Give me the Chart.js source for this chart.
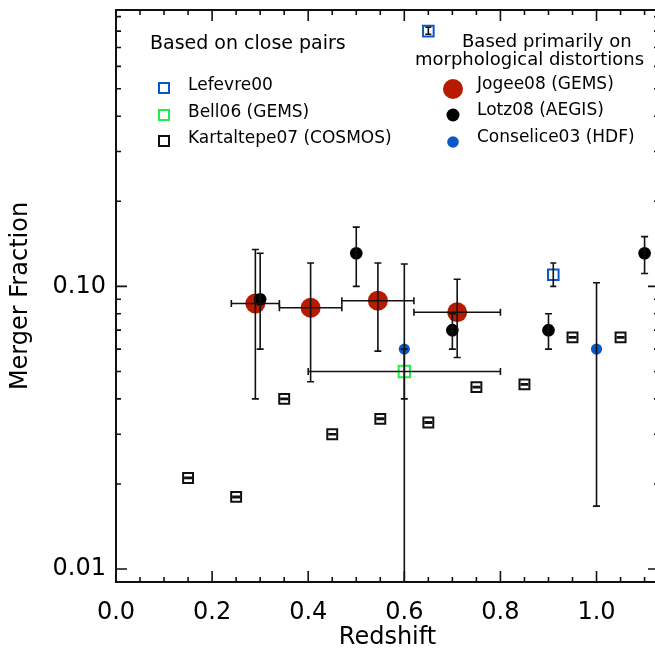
<!DOCTYPE html>
<html lang="en">
<head>
<meta charset="utf-8">
<title>Merger Fraction vs Redshift</title>
<script src="https://cdn.jsdelivr.net/npm/chart.js@4.4.0/dist/chart.umd.min.js"></script>
<style>
  html, body { margin: 0; padding: 0; background: #fff; overflow: hidden; }
  #wrap { position: relative; width: 670px; height: 656px; }
</style>
</head>
<body>
<div id="wrap"><canvas id="mergerChart"></canvas></div>
<script>
// --- close pairs ---
var lefevreZ  = [0.65, 0.91];
var lefevreF  = [0.80, 0.110];
var lefevreLo = [0.78, 0.100];
var lefevreHi = [0.825, 0.121];

var bellZ   = [0.60];
var bellF   = [0.050];
var bellLo  = [0.040];
var bellHi  = [0.060];
var bellZLo = [0.40];
var bellZHi = [0.80];

var kartZ  = [0.15, 0.25, 0.35, 0.45, 0.55, 0.65, 0.75, 0.85, 0.95, 1.05];
var kartF  = [0.021, 0.018, 0.040, 0.030, 0.034, 0.033, 0.044, 0.045, 0.066, 0.066];
var kartLo = [0.0209, 0.0179, 0.0398, 0.0299, 0.0338, 0.0328, 0.0438, 0.0448, 0.0657, 0.0657];
var kartHi = [0.0211, 0.0181, 0.0402, 0.0301, 0.0342, 0.0332, 0.0442, 0.0452, 0.0663, 0.0663];

// --- morphological distortions ---
var jogeeZ   = [0.29, 0.405, 0.545, 0.71];
var jogeeF   = [0.087, 0.084, 0.089, 0.081];
var jogeeLo  = [0.040, 0.046, 0.059, 0.056];
var jogeeHi  = [0.135, 0.121, 0.121, 0.106];
var jogeeZLo = [0.24, 0.34, 0.47, 0.62];
var jogeeZHi = [0.34, 0.47, 0.62, 0.80];

var lotzZ  = [0.30, 0.50, 0.70, 0.90, 1.10];
var lotzF  = [0.090, 0.131, 0.070, 0.070, 0.131];
var lotzLo = [0.060, 0.100, 0.060, 0.060, 0.111];
var lotzHi = [0.131, 0.162, 0.080, 0.080, 0.150];

var conseliceZ  = [0.60, 1.00];
var conseliceF  = [0.060, 0.060];
var conseliceLo = [0.001, 0.0167];
var conseliceHi = [0.120, 0.103];

var xTickLabels = [0.0, 0.2, 0.4, 0.6, 0.8, 1.0];
var yTickLabels = [0.01, 0.10];

var FONT = "'DejaVu Sans', sans-serif";
var BLUE = '#0b57c8';
var RED = '#b81a00';
var GREEN = '#22ee44';
var INK = '#111';

function pts(xs, ys) {
  return xs.map(function (x, i) { return { x: x, y: ys[i] }; });
}

// error bars: vertical (lo/hi) and optional horizontal (xlo/xhi)
var errorBars = {
  id: 'errorBars',
  afterDatasetsDraw: function (chart) {
    var ctx = chart.ctx, xs = chart.scales.x, ys = chart.scales.y, a = chart.chartArea;
    ctx.save();
    ctx.beginPath();
    ctx.rect(a.left, a.top, a.right - a.left, a.bottom - a.top);
    ctx.clip();
    ctx.strokeStyle = INK;
    ctx.lineWidth = 1.6;
    chart.data.datasets.forEach(function (ds) {
      var e = ds.errors;
      if (!e) return;
      var cap = e.cap || 3.5;
      ds.data.forEach(function (p, i) {
        var px = xs.getPixelForValue(p.x), py = ys.getPixelForValue(p.y);
        ctx.beginPath();
        if (e.lo) {
          var y1 = ys.getPixelForValue(e.lo[i]), y2 = ys.getPixelForValue(e.hi[i]);
          ctx.moveTo(px, y1); ctx.lineTo(px, y2);
          ctx.moveTo(px - cap, y1); ctx.lineTo(px + cap, y1);
          ctx.moveTo(px - cap, y2); ctx.lineTo(px + cap, y2);
        }
        if (e.xlo) {
          var x1 = xs.getPixelForValue(e.xlo[i]), x2 = xs.getPixelForValue(e.xhi[i]);
          ctx.moveTo(x1, py); ctx.lineTo(x2, py);
          ctx.moveTo(x1, py - cap); ctx.lineTo(x1, py + cap);
          ctx.moveTo(x2, py - cap); ctx.lineTo(x2, py + cap);
        }
        ctx.stroke();
      });
    });
    ctx.restore();
  }
};

// box frame with inward ticks on all four sides
var frameTicks = {
  id: 'frameTicks',
  afterDraw: function (chart) {
    var ctx = chart.ctx, xs = chart.scales.x, ys = chart.scales.y, a = chart.chartArea;
    ctx.save();
    ctx.strokeStyle = INK;
    ctx.lineWidth = 2;
    ctx.strokeRect(a.left, a.top, a.right - a.left, a.bottom - a.top);
    ctx.lineWidth = 1.6;
    ctx.beginPath();
    for (var k = 1; k <= 22; k++) {
      var v = k * 0.05;
      if (v > xs.max) break;
      var px = xs.getPixelForValue(v);
      var len = (k % 4 === 0) ? 11 : 5;
      ctx.moveTo(px, a.bottom); ctx.lineTo(px, a.bottom - len);
      ctx.moveTo(px, a.top); ctx.lineTo(px, a.top + len);
    }
    [0.01, 0.1].forEach(function (dec) {
      for (var m = 1; m <= 9; m++) {
        var val = m * dec;
        if (val < ys.min || val > ys.max) continue;
        var py = ys.getPixelForValue(val);
        var l = (m === 1) ? 11 : 5;
        ctx.moveTo(a.left, py); ctx.lineTo(a.left + l, py);
        ctx.moveTo(a.right, py); ctx.lineTo(a.right - l, py);
      }
    });
    ctx.stroke();
    ctx.restore();
  }
};

// two-column key drawn inside the plot
var keyBox = {
  id: 'keyBox',
  afterDraw: function (chart) {
    var ctx = chart.ctx;
    ctx.save();
    ctx.fillStyle = '#000';
    ctx.textBaseline = 'alphabetic';
    ctx.textAlign = 'left';

    ctx.font = '19px ' + FONT;
    ctx.fillText('Based on close pairs', 150, 49);
    ctx.font = '18px ' + FONT;
    ctx.fillText('Based primarily on', 462, 47);
    ctx.fillText('morphological distortions', 415, 65);

    ctx.font = '17px ' + FONT;
    var left = [['Lefevre00', BLUE, 90], ['Bell06 (GEMS)', GREEN, 117], ['Kartaltepe07 (COSMOS)', INK, 143]];
    left.forEach(function (r) {
      ctx.fillStyle = '#000';
      ctx.fillText(r[0], 188, r[2]);
      ctx.strokeStyle = r[1];
      ctx.lineWidth = 2;
      ctx.strokeRect(159, r[2] - 7, 10, 10);
    });
    var right = [['Jogee08 (GEMS)', RED, 89, 10], ['Lotz08 (AEGIS)', '#000', 115, 6.5], ['Conselice03 (HDF)', BLUE, 142, 5.8]];
    right.forEach(function (r) {
      ctx.fillStyle = '#000';
      ctx.fillText(r[0], 477, r[2]);
      ctx.fillStyle = r[1];
      ctx.beginPath();
      ctx.arc(453, r[2], r[3], 0, Math.PI * 2);
      ctx.fill();
    });
    ctx.restore();
  }
};

new Chart(document.getElementById('mergerChart'), {
  type: 'scatter',
  data: {
    datasets: [{
      label: 'Kartaltepe07 (COSMOS)',
      data: pts(kartZ, kartF),
      errors: { lo: kartLo, hi: kartHi, cap: 4 },
      pointStyle: 'rect', pointRadius: 7,
      backgroundColor: 'rgba(0,0,0,0)', borderColor: INK, borderWidth: 2,
      order: 6
    }, {
      label: 'Lefevre00',
      data: pts(lefevreZ, lefevreF),
      errors: { lo: lefevreLo, hi: lefevreHi, cap: 3 },
      pointStyle: 'rect', pointRadius: 7.5,
      backgroundColor: 'rgba(0,0,0,0)', borderColor: BLUE, borderWidth: 2,
      order: 5
    }, {
      label: 'Bell06 (GEMS)',
      data: pts(bellZ, bellF),
      errors: { lo: bellLo, hi: bellHi, xlo: bellZLo, xhi: bellZHi, cap: 3.5 },
      pointStyle: 'rect', pointRadius: 8,
      backgroundColor: 'rgba(0,0,0,0)', borderColor: GREEN, borderWidth: 2,
      order: 4
    }, {
      label: 'Jogee08 (GEMS)',
      data: pts(jogeeZ, jogeeF),
      errors: { lo: jogeeLo, hi: jogeeHi, xlo: jogeeZLo, xhi: jogeeZHi, cap: 3.5 },
      pointStyle: 'circle', pointRadius: 10,
      backgroundColor: RED, borderColor: RED, borderWidth: 0,
      order: 3
    }, {
      label: 'Conselice03 (HDF)',
      data: pts(conseliceZ, conseliceF),
      errors: { lo: conseliceLo, hi: conseliceHi, cap: 3.5 },
      pointStyle: 'circle', pointRadius: 5.6,
      backgroundColor: BLUE, borderColor: BLUE, borderWidth: 0,
      order: 2
    }, {
      label: 'Lotz08 (AEGIS)',
      data: pts(lotzZ, lotzF),
      errors: { lo: lotzLo, hi: lotzHi, cap: 3.5 },
      pointStyle: 'circle', pointRadius: 6.3,
      backgroundColor: '#000', borderColor: '#000', borderWidth: 0,
      order: 1
    }]
  },
  options: {
    responsive: true,
    maintainAspectRatio: false,
    animation: false,
    layout: { padding: { top: 9, right: 11, left: 0, bottom: 0 } },
    plugins: { legend: { display: false }, tooltip: { enabled: false } },
    scales: {
      x: {
        type: 'linear', min: 0, max: 1.13,
        grid: { display: false, drawTicks: false },
        border: { display: false },
        afterBuildTicks: function (s) { s.ticks = xTickLabels.map(function (v) { return { value: v }; }); },
        afterFit: function (s) { s.height = 74; s.paddingLeft = 0; s.paddingRight = 0; },
        ticks: {
          padding: 16, color: '#000', font: { family: FONT, size: 24 },
          callback: function (v) { return Number(v).toFixed(1); }
        },
        title: { display: true, text: 'Redshift', color: '#000', font: { family: FONT, size: 24 }, padding: { top: 8, bottom: 4 } }
      },
      y: {
        type: 'logarithmic', min: 0.009, max: 0.95,
        grid: { display: false, drawTicks: false },
        border: { display: false },
        afterBuildTicks: function (s) { s.ticks = yTickLabels.map(function (v) { return { value: v }; }); },
        afterFit: function (s) { s.width = 116; s.paddingTop = 0; s.paddingBottom = 0; },
        ticks: {
          padding: 10, color: '#000', font: { family: FONT, size: 24 },
          callback: function (v) { return Number(v).toFixed(2); }
        },
        title: { display: true, text: 'Merger Fraction', color: '#000', font: { family: FONT, size: 24 }, padding: { top: 6, bottom: 0 } }
      }
    }
  },
  plugins: [errorBars, frameTicks, keyBox]
});
</script>
</body>
</html>
